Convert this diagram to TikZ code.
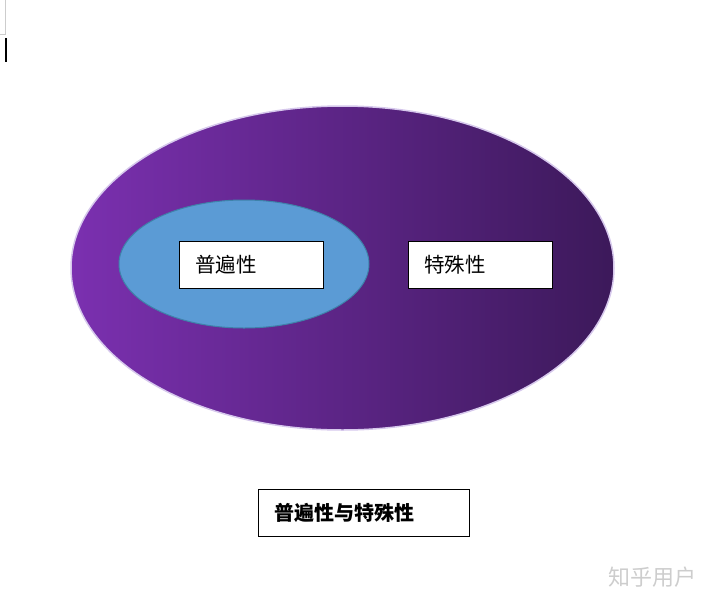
\documentclass[tikz,border=0pt]{standalone}
\usepackage{fontspec}
\usetikzlibrary{shapes.geometric,positioning}
\newfontfamily\cjk{Noto Sans CJK SC}
\definecolor{purpleL}{RGB}{123, 48, 176}
\definecolor{purpleR}{RGB}{60, 25, 90}
\definecolor{rimlav}{RGB}{214, 200, 236}
\definecolor{innerblue}{RGB}{91, 155, 213}
\definecolor{innerrim}{RGB}{62, 130, 170}
\definecolor{marksgray}{RGB}{205, 205, 205}

\begin{document}
\begin{tikzpicture}[x=1pt, y=-1pt,
		outerell/.style={ellipse, draw=rimlav, line width=1.5pt, left color=purpleL, right color=purpleR, minimum width=543pt, minimum height=324pt, inner sep=0pt},
		innerell/.style={ellipse, draw=innerrim, line width=1pt, fill=innerblue, minimum width=250pt, minimum height=128pt, inner sep=0pt},
		labelbox/.style={draw=black, line width=0.8pt, fill=white, rectangle, minimum height=47pt, inner xsep=16pt, text width=112pt, align=left, font=\cjk\fontsize{20.5}{20.5}\selectfont},
		titlebox/.style={draw=black, line width=0.8pt, fill=white, rectangle, minimum height=47pt, inner xsep=16pt, text width=179pt, align=left, font=\cjk\bfseries\fontsize{20}{20}\selectfont},
		watermark/.style={text=marksgray, inner sep=0pt, font=\cjk\fontsize{22}{22}\selectfont}
		]
		\useasboundingbox (0,0) rectangle (716,603);
		
		% page corner and cursor
		\draw[marksgray, line width=0.8pt] (5,0) -- (5,34) -- (0,34);
		\draw[black, line width=2pt] (6,38) -- (6,62);
		
		\node[outerell](whole) at (342.5,268) {};
		\node[innerell](part) at (244,264) {};
		
		\node[labelbox](univ) at (251,264.5) {普遍性};
		\node[labelbox](spec) at (480,264.5) {特殊性};
		
		\node[titlebox](title) at (363.5,512.5) {普遍性与特殊性};
		
		\node[watermark](mark) at (652,577) {知乎用户};
\end{tikzpicture}
\end{document}
